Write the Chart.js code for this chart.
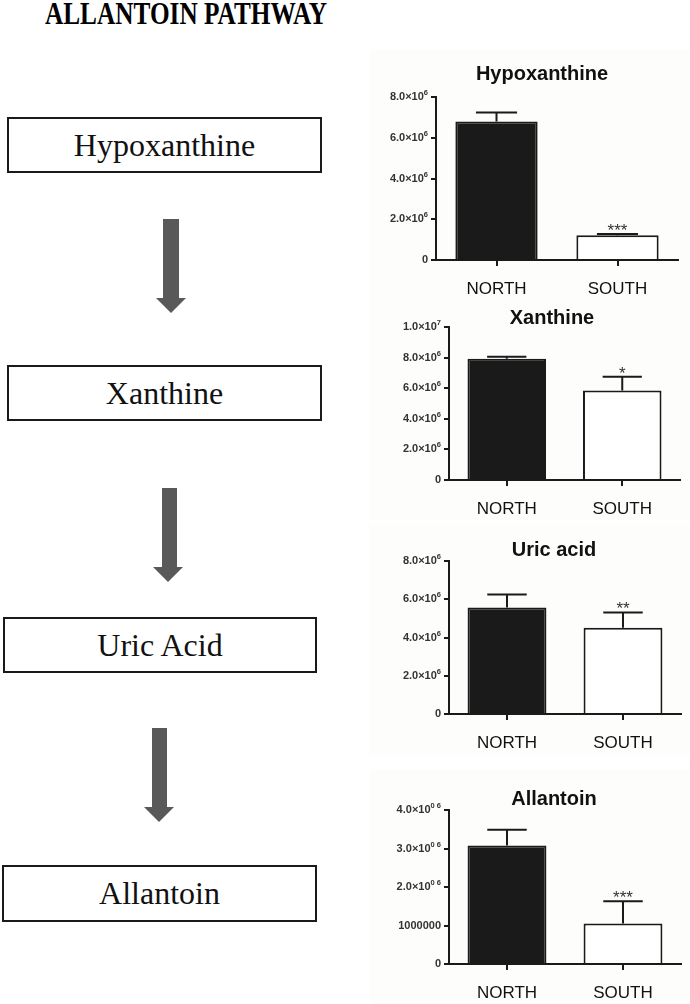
<!DOCTYPE html>
<html>
<head>
<meta charset="utf-8">
<script src="https://cdn.jsdelivr.net/npm/chart.js@4.4.0/dist/chart.umd.min.js"></script>
<style>
  body { margin:0; width:690px; height:1004px; background:#fff; position:relative; overflow:hidden; }
  .title { position:absolute; left:45px; top:-3px; font:bold 32px "Liberation Serif", "Times New Roman", serif; line-height:32px;
           transform:scaleX(0.79); transform-origin:left top; white-space:nowrap; color:#000; }
  .box { position:absolute; box-sizing:border-box; border:2px solid #1a1a1a; font:32px "Liberation Serif", "Times New Roman", serif;
         color:#111; text-align:center; }
  .shaft { position:absolute; background:#595959; }
  .head { position:absolute; width:0; height:0; border-left:15.5px solid transparent; border-right:15.5px solid transparent; border-top:15px solid #595959; }
  canvas { position:absolute; background:#fdfdfc; }
</style>
</head>
<body>
<div class="title">ALLANTOIN PATHWAY</div>

<div class="box" style="left:7px;top:117px;width:315px;height:56px;line-height:52px;">Hypoxanthine</div>
<div class="box" style="left:7px;top:365px;width:315px;height:56px;line-height:52px;">Xanthine</div>
<div class="box" style="left:3px;top:617px;width:314px;height:56px;line-height:52px;">Uric Acid</div>
<div class="box" style="left:2px;top:865px;width:315px;height:57px;line-height:53px;">Allantoin</div>

<div class="shaft" style="left:163px;top:219px;width:16px;height:79px;"></div>
<div class="head" style="left:156px;top:298px;"></div>
<div class="shaft" style="left:162px;top:488px;width:15px;height:79px;"></div>
<div class="head" style="left:153px;top:567px;"></div>
<div class="shaft" style="left:152px;top:728px;width:15px;height:79px;"></div>
<div class="head" style="left:144px;top:807px;"></div>

<canvas id="c1" width="320" height="250" style="left:370px;top:50px;"></canvas>
<canvas id="c2" width="320" height="220" style="left:370px;top:300px;"></canvas>
<canvas id="c3" width="320" height="230" style="left:370px;top:525px;"></canvas>
<canvas id="c4" width="320" height="234" style="left:370px;top:770px;"></canvas>

<script>
// groups
var groups = ["NORTH", "SOUTH"];

// mean values and SEM per metabolite
var hypoxanthine = [6800000, 1220000];
var hypoxanthineErr = [440000, 50000];
var hypoxanthineStars = ["", "***"];

var xanthine = [7920000, 5850000];
var xanthineErr = [130000, 900000];
var xanthineStars = ["", "*"];

var uricAcid = [5570000, 4510000];
var uricAcidErr = [680000, 800000];
var uricAcidStars = ["", "**"];

var allantoin = [3080000, 1050000];
var allantoinErr = [410000, 580000];
var allantoinStars = ["", "***"];

// y tick labels, bottom to top
var hypoxanthineTicks = ["0", "2.0×10⁶", "4.0×10⁶", "6.0×10⁶", "8.0×10⁶"];
var xanthineTicks = ["0", "2.0×10⁶", "4.0×10⁶", "6.0×10⁶", "8.0×10⁶", "1.0×10⁷"];
var uricAcidTicks = ["0", "2.0×10⁶", "4.0×10⁶", "6.0×10⁶", "8.0×10⁶"];
var allantoinTicks = ["0", "1000000", "2.0×10⁰ ⁶", "3.0×10⁰ ⁶", "4.0×10⁰ ⁶"];

var ink = "#1a1a1a";
var sans = "'Liberation Sans', Arial, sans-serif";
var supers = "⁰¹²³⁴⁵⁶⁷⁸⁹";

// error bars + significance stars
var errorBars = {
	id: "errorBars",
	afterDatasetsDraw: function(chart, args, opts) {
		var ctx = chart.ctx;
		var y = chart.scales.y;
		var ds = chart.data.datasets[0];
		var meta = chart.getDatasetMeta(0);
		ctx.save();
		ctx.strokeStyle = ink;
		ctx.lineWidth = 2;
		ctx.fillStyle = "#333";
		ctx.font = "17px " + sans;
		ctx.textAlign = "center";
		ctx.textBaseline = "alphabetic";
		meta.data.forEach(function(bar, i) {
			var top = y.getPixelForValue(ds.data[i] + opts.errors[i]);
			var half = bar.width / 4;
			ctx.beginPath();
			ctx.moveTo(bar.x, bar.y);
			ctx.lineTo(bar.x, top);
			ctx.moveTo(bar.x - half, top);
			ctx.lineTo(bar.x + half, top);
			ctx.stroke();
			if (opts.stars[i]) ctx.fillText(opts.stars[i], bar.x, top + 2);
		});
		ctx.restore();
	}
};

// y tick labels with real superscripts (x10^n)
var yLabels = {
	id: "yLabels",
	afterDraw: function(chart, args, opts) {
		var ctx = chart.ctx;
		var y = chart.scales.y;
		var base = "bold 11px " + sans, sup = "bold 7.5px " + sans;
		ctx.save();
		ctx.fillStyle = "#333";
		ctx.textAlign = "left";
		ctx.textBaseline = "middle";
		y.ticks.forEach(function(t) {
			var text = opts.labels[Math.round(t.value / opts.step)];
			if (!text) return;
			var runs = [];
			for (var k = 0; k < text.length; k++) {
				var ch = text[k], idx = supers.indexOf(ch);
				var isSup = idx >= 0 || (ch === " " && runs.length && runs[runs.length - 1].sup);
				var c = idx >= 0 ? String(idx) : ch;
				if (runs.length && runs[runs.length - 1].sup === isSup) runs[runs.length - 1].s += c;
				else runs.push({ s: c, sup: isSup });
			}
			var w = 0;
			runs.forEach(function(r) { ctx.font = r.sup ? sup : base; r.w = ctx.measureText(r.s).width; w += r.w; });
			var x = chart.chartArea.left - 5 - 3 - w;
			var py = y.getPixelForValue(t.value);
			runs.forEach(function(r) {
				ctx.font = r.sup ? sup : base;
				ctx.fillText(r.s, x, r.sup ? py - 4 : py);
				x += r.w;
			});
		});
		ctx.restore();
	}
};

function makeChart(id, title, values, errors, stars, tickLabels, max, step, g) {
	return new Chart(document.getElementById(id), {
		type: "bar",
		data: {
			labels: groups,
			datasets: [{
				data: values,
				backgroundColor: [ink, "#ffffff"],
				borderColor: ink,
				borderWidth: 2,
				barPercentage: 0.68,
				categoryPercentage: 1
			}]
		},
		options: {
			responsive: false,
			animation: false,
			layout: { padding: { left: g.left, right: g.right, top: 0, bottom: 0 } },
			plugins: {
				legend: { display: false },
				tooltip: { enabled: false },
				title: {
					display: true,
					text: title,
					color: "#111",
					font: { family: sans, size: 20, weight: "bold", lineHeight: 0.9 },
					padding: { top: g.titleTop, bottom: g.titleBottom }
				},
				errorBars: { errors: errors, stars: stars },
				yLabels: { labels: tickLabels, step: step }
			},
			scales: {
				x: {
					afterFit: function(s) { s.height = g.xHeight; },
					grid: { offset: false, drawOnChartArea: false, drawTicks: true, tickLength: 6, color: ink, lineWidth: 2 },
					border: { color: ink, width: 2 },
					ticks: { color: "#111", padding: 13, font: { family: sans, size: 17 } }
				},
				y: {
					min: 0,
					max: max,
					afterFit: function(s) { s.width = g.yWidth; },
					grid: { drawOnChartArea: false, drawTicks: true, tickLength: 5, color: ink, lineWidth: 2 },
					border: { color: ink, width: 2 },
					ticks: {
						stepSize: step,
						display: false,
						callback: function(v) { return tickLabels[Math.round(v / step)]; }
					}
				}
			}
		},
		plugins: [errorBars, yLabels]
	});
}

makeChart("c1", "Hypoxanthine", hypoxanthine, hypoxanthineErr, hypoxanthineStars, hypoxanthineTicks, 8000000, 2000000,
	{ left: 36, right: 12, yWidth: 30, xHeight: 40, titleTop: 15, titleBottom: 14 });
makeChart("c2", "Xanthine", xanthine, xanthineErr, xanthineStars, xanthineTicks, 10000000, 2000000,
	{ left: 54, right: 10, yWidth: 25, xHeight: 40, titleTop: 9, titleBottom: 0 });
makeChart("c3", "Uric acid", uricAcid, uricAcidErr, uricAcidStars, uricAcidTicks, 8000000, 2000000,
	{ left: 57, right: 9, yWidth: 22, xHeight: 41, titleTop: 16, titleBottom: 2 });
makeChart("c4", "Allantoin", allantoin, allantoinErr, allantoinStars, allantoinTicks, 4000000, 1000000,
	{ left: 57, right: 9, yWidth: 22, xHeight: 40, titleTop: 20, titleBottom: 2 });
</script>
</body>
</html>
